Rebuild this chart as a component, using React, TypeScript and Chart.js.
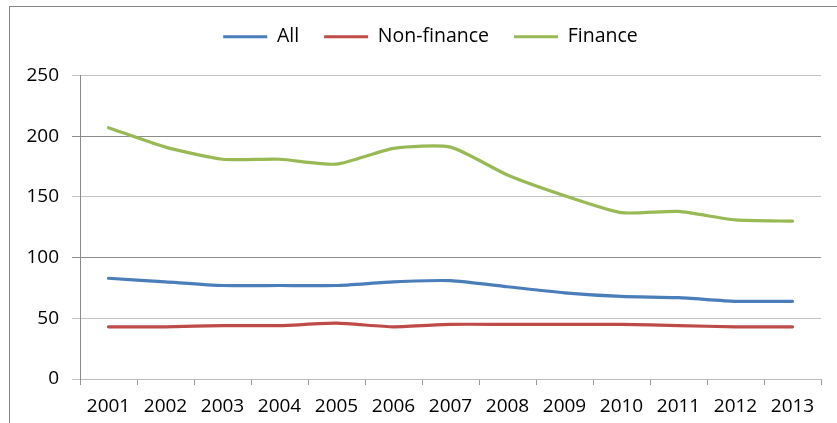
import React, { useEffect, useRef } from "react";
import { Chart, registerables } from "chart.js";

Chart.register(...registerables);

const years = ["2001", "2002", "2003", "2004", "2005", "2006", "2007", "2008", "2009", "2010", "2011", "2012", "2013"];
const allValues = [83, 80, 77, 77, 77, 80, 81, 76, 71, 68, 67, 64, 64];
const nonFinanceValues = [43, 43, 44, 44, 46, 43, 45, 45, 45, 45, 44, 43, 43];
const financeValues = [207, 191, 181, 181, 177, 190, 191, 168, 151, 137, 138, 131, 130];
const seriesNames = ["All", "Non-finance", "Finance"];
const yTicks = [0, 50, 100, 150, 200, 250];

const FONT = "'Open Sans', 'Liberation Sans', sans-serif";

const borderPlugin = {
  id: "outerBorder",
  afterLayout(chart: any) {
    const l = chart.legend;
    if (l) {
      l.left += 10;
      l.right += 10;
    }
  },
  beforeDraw(chart: any) {
    const ctx = chart.ctx;
    ctx.save();
    ctx.fillStyle = "#ffffff";
    ctx.fillRect(0, 0, chart.width, chart.height);
    ctx.strokeStyle = "#868686";
    ctx.lineWidth = 1;
    ctx.strokeRect(9.5, 6.5, 900, 500);
    ctx.restore();
  },
};

export default function App() {
  const canvasRef = useRef<HTMLCanvasElement | null>(null);

  useEffect(() => {
    if (!canvasRef.current) return;
    const common = { borderWidth: 3.2, tension: 0.2, borderCapStyle: "round" as const, pointRadius: 0, pointHoverRadius: 0 };
    const chart = new Chart(canvasRef.current, {
      type: "line",
      data: {
        labels: years,
        datasets: [
          { label: seriesNames[0], data: allValues, borderColor: "#4A7EBB", backgroundColor: "#4A7EBB", ...common },
          { label: seriesNames[1], data: nonFinanceValues, borderColor: "#BE4B48", backgroundColor: "#BE4B48", ...common },
          { label: seriesNames[2], data: financeValues, borderColor: "#98B954", backgroundColor: "#98B954", ...common },
        ],
      },
      options: {
        responsive: false,
        animation: false,
        layout: { padding: { left: 20, right: 16, top: 2, bottom: 0 } },
        plugins: {
          tooltip: { enabled: false },
          legend: {
            position: "top",
            weight: 1000,
            labels: {
              usePointStyle: true,
              pointStyle: "line",
              pointStyleWidth: 44,
              padding: 25,
              color: "#000",
              font: { family: FONT, size: 19.5 },
            },
          } as any,
          title: {
            display: true,
            text: "",
            weight: 900,
            font: { size: 1, lineHeight: 1 },
            padding: { top: 18, bottom: 0 },
          } as any,
        },
        scales: {
          x: {
            type: "category",
            offset: true,
            afterFit(scale: any) {
              scale.height = 44;
            },
            grid: {
              offset: true,
              drawOnChartArea: false,
              drawTicks: true,
              tickLength: 6,
              color: "#9a9a9a",
            },
            border: { display: true, color: "#bdbdbd", width: 1 },
            ticks: {
              color: "#000",
              font: { family: FONT, size: 19 },
              padding: 10,
              maxRotation: 0,
              autoSkip: false,
            },
          },
          y: {
            min: 0,
            max: 250,
            afterFit(scale: any) {
              scale.width = 60;
            },
            afterBuildTicks(scale: any) {
              scale.ticks = yTicks.map((v) => ({ value: v }));
            },
            grid: {
              drawTicks: true,
              tickLength: 8,
              color: (c: any) =>
                c.tick && (c.tick.value === 100 || c.tick.value === 200) ? "#8c8c8c" : "#c4c4c4",
            },
            border: { display: true, color: "#8c8c8c", width: 1 },
            ticks: {
              color: "#000",
              font: { family: FONT, size: 19 },
              padding: 13,
            },
          },
        },
      },
      plugins: [borderPlugin],
    });
    return () => chart.destroy();
  }, []);

  return (
    <div style={{ position: "fixed", left: 0, top: 0, width: 837, height: 423, background: "#fff" }}>
      <canvas ref={canvasRef} width={837} height={423} style={{ display: "block" }} />
    </div>
  );
}
